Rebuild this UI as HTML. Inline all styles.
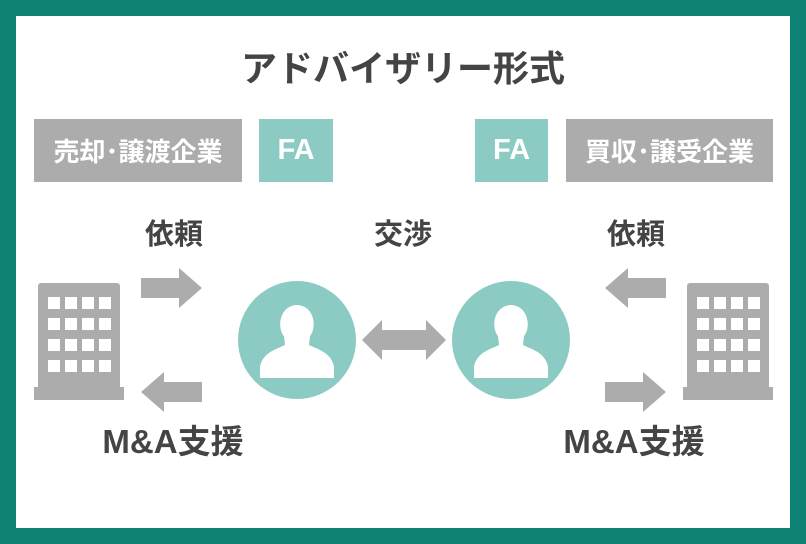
<!DOCTYPE html>
<html><head><meta charset="utf-8"><style>
body{margin:0;width:806px;height:544px;background:#0e8274;position:relative;overflow:hidden;font-family:"Liberation Sans","Noto Sans CJK JP",sans-serif;}
.in{position:absolute;left:16px;top:16px;width:774px;height:512px;background:#fff;}
.t{position:absolute;color:#444;font-weight:bold;text-align:center;white-space:nowrap;line-height:1;}
.box{position:absolute;color:#fff;font-weight:bold;font-size:26px;display:flex;align-items:center;justify-content:center;}
</style></head><body>
<div class="in"></div>
<div class="t" style="left:153px;top:51px;width:500px;font-size:36px;">アドバイザリー形式</div>
<div class="box" style="left:34px;top:119px;width:208px;height:63px;background:#acacac;">売却･譲渡企業</div>
<div class="box" style="left:259px;top:119px;width:74px;height:63px;background:#8ccbc4;font-size:29px;">FA</div>
<div class="box" style="left:475px;top:119px;width:73px;height:63px;background:#8ccbc4;font-size:29px;">FA</div>
<div class="box" style="left:566px;top:119px;width:207px;height:63px;background:#acacac;">買収･譲受企業</div>
<div class="t" style="left:114px;top:221px;width:120px;font-size:29px;">依頼</div>
<div class="t" style="left:343px;top:221px;width:120px;font-size:29px;">交渉</div>
<div class="t" style="left:576px;top:221px;width:120px;font-size:29px;">依頼</div>
<div class="t" style="left:73px;top:425px;width:200px;font-size:33px;">M&amp;A支援</div>
<div class="t" style="left:534px;top:425px;width:200px;font-size:33px;">M&amp;A支援</div>
<svg width="806" height="544" style="position:absolute;left:0;top:0">
<defs>
<g id="bld">
<rect x="4" y="0" width="82" height="108" rx="3" fill="#acacac"/>
<rect x="0" y="104" width="90" height="13" fill="#acacac"/>
<g fill="#fff">
<rect x="14" y="14" width="12" height="12"/><rect x="31" y="14" width="12" height="12"/><rect x="48" y="14" width="12" height="12"/><rect x="65" y="14" width="12" height="12"/>
<rect x="14" y="35" width="12" height="12"/><rect x="31" y="35" width="12" height="12"/><rect x="48" y="35" width="12" height="12"/><rect x="65" y="35" width="12" height="12"/>
<rect x="14" y="56" width="12" height="12"/><rect x="31" y="56" width="12" height="12"/><rect x="48" y="56" width="12" height="12"/><rect x="65" y="56" width="12" height="12"/>
<rect x="14" y="77" width="12" height="12"/><rect x="31" y="77" width="12" height="12"/><rect x="48" y="77" width="12" height="12"/><rect x="65" y="77" width="12" height="12"/>
</g></g>
<g id="ar"><polygon points="0,10 38,10 38,0 61,20 38,40 38,30 0,30" fill="#acacac"/></g>
<g id="per">
<circle r="59" fill="#8ccbc4"/>
<path d="M-13,-4 C-20,-12 -18,-34 0,-35 C18,-34 20,-12 13,-4 L12,5 C22,10 33,12 37,26 L37,38 L-37,38 L-37,26 C-33,12 -22,10 -12,5 Z" fill="#fff"/>
</g>
</defs>
<use href="#bld" x="34" y="283"/>
<use href="#bld" x="683" y="283"/>
<use href="#ar" x="141" y="268"/>
<use href="#ar" transform="translate(202,372) scale(-1,1)"/>
<use href="#ar" transform="translate(666,268) scale(-1,1)"/>
<use href="#ar" x="605" y="372"/>
<use href="#per" x="297" y="340"/>
<use href="#per" x="511" y="340"/>
<polygon points="362,340 382,320 382,330 426,330 426,320 446,340 426,360 426,350 382,350 382,360" fill="#acacac"/>
</svg>
</body></html>
